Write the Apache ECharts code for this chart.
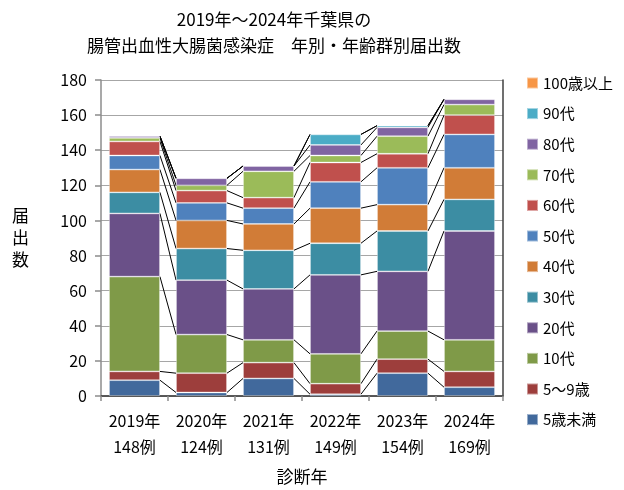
<!DOCTYPE html>
<html>
<head>
<meta charset="utf-8" />
<title>ECharts</title>
<script src="https://cdn.jsdelivr.net/npm/echarts@6.0.0/dist/echarts.min.js"></script>
<style>
  html, body { margin: 0; padding: 0; background: #fff; }
  #chart { width: 624px; height: 490px; }
</style>
</head>
<body>
<div id="chart"></div>
<script type="text/javascript">
  const years = ['2019年', '2020年', '2021年', '2022年', '2023年', '2024年'];
  const caseCounts = ['148例', '124例', '131例', '149例', '154例', '169例'];
  const ageGroups = ['5歳未満', '5～9歳', '10代', '20代', '30代', '40代', '50代', '60代', '70代', '80代', '90代', '100歳以上'];

  const under5 = [9, 2, 10, 1, 13, 5];
  const age5to9 = [5, 11, 9, 6, 8, 9];
  const teens = [54, 22, 13, 17, 16, 18];
  const twenties = [36, 31, 29, 45, 34, 62];
  const thirties = [12, 18, 22, 18, 23, 18];
  const forties = [13, 16, 15, 20, 15, 18];
  const fifties = [8, 10, 9, 15, 21, 19];
  const sixties = [8, 7, 6, 11, 8, 11];
  const seventies = [2, 3, 15, 4, 10, 6];
  const eighties = [1, 4, 3, 6, 5, 3];
  const nineties = [0, 0, 0, 6, 1, 0];
  const over100 = [0, 0, 0, 0, 0, 0];

  const yTicks = [0, 20, 40, 60, 80, 100, 120, 140, 160, 180];

  const groupValues = [under5, age5to9, teens, twenties, thirties, forties,
    fifties, sixties, seventies, eighties, nineties, over100];
  const colors = ['#41699C', '#9D3E3C', '#7F9A48', '#6A5088', '#3C8DA3', '#D17C37',
    '#4F81BD', '#C0504D', '#9BBB59', '#8064A2', '#4BACC6', '#F79646'];

  const FONT = '"Noto Sans CJK JP", "Noto Sans", sans-serif';
  const BAR_RATIO = 0.76;

  // cumulative tops of each stacked group, used for the connecting series lines
  const running = years.map(() => 0);
  const seriesLineData = [];
  groupValues.forEach(arr => {
    arr.forEach((v, i) => { running[i] += v; });
    for (let i = 0; i < years.length - 1; i++) {
      seriesLineData.push([i, running[i], running[i + 1]]);
    }
  });

  const barSeries = ageGroups.map((name, k) => ({
    type: 'bar',
    name: name,
    stack: 'total',
    barWidth: (BAR_RATIO * 100) + '%',
    itemStyle: { color: colors[k], borderColor: 'rgba(255,255,255,0.45)', borderWidth: 0.8 },
    data: groupValues[k].map(v => (v === 0 ? '-' : v)),
    z: 3
  }));

  const lineSeries = {
    type: 'custom',
    name: 'series-lines',
    silent: true,
    encode: { x: 0, y: [1, 2] },
    data: seriesLineData,
    z: 2,
    renderItem: function (params, api) {
      const i = api.value(0);
      const half = api.size([1, 0])[0] * BAR_RATIO / 2;
      const p1 = api.coord([i, api.value(1)]);
      const p2 = api.coord([i + 1, api.value(2)]);
      return {
        type: 'line',
        shape: { x1: p1[0] + half, y1: p1[1], x2: p2[0] - half, y2: p2[1] },
        style: { stroke: '#000', lineWidth: 1 }
      };
    }
  };

  const chart = echarts.init(document.getElementById('chart'), null, { renderer: 'canvas' });
  chart.setOption({
    animation: false,
    textStyle: { fontFamily: FONT },
    title: {
      text: '2019年～2024年千葉県の\n腸管出血性大腸菌感染症　年別・年齢群別届出数',
      left: 269,
      top: 2,
      textAlign: 'center',
      textStyle: { fontSize: 17, fontWeight: 'normal', color: '#000', lineHeight: 26, fontFamily: FONT }
    },
    legend: {
      orient: 'vertical',
      left: 521,
      top: 68,
      itemWidth: 11,
      itemHeight: 11,
      itemGap: 10.6,
      icon: 'rect',
      data: ageGroups.slice().reverse(),
      textStyle: { fontSize: 15, color: '#000', lineHeight: 20, fontFamily: FONT }
    },
    grid: { left: 101, right: 121, top: 80, bottom: 94 },
    xAxis: [{
      type: 'category',
      data: years.map((y, i) => y + '\n' + caseCounts[i]),
      name: '診断年',
      nameLocation: 'middle',
      nameGap: 72,
      nameTextStyle: { fontSize: 17, color: '#000', fontFamily: FONT },
      axisLine: { lineStyle: { color: '#8C8C8C', width: 1.5 } },
      axisTick: { show: true, length: 5, lineStyle: { color: '#8C8C8C', width: 1.5 } },
      axisLabel: { fontSize: 16, color: '#000', lineHeight: 26, margin: 12, fontFamily: FONT }
    }, {
      type: 'category',
      position: 'top',
      data: years,
      axisLine: { lineStyle: { color: '#404040', width: 1.5 } },
      axisTick: { show: false },
      axisLabel: { show: false }
    }],
    yAxis: [{
      type: 'value',
      min: yTicks[0],
      max: yTicks[yTicks.length - 1],
      interval: yTicks[1] - yTicks[0],
      name: '届\n出\n数',
      nameLocation: 'middle',
      nameRotate: 0,
      nameGap: 72,
      nameTextStyle: { fontSize: 17, color: '#000', lineHeight: 22, fontFamily: FONT },
      axisLine: { show: true, lineStyle: { color: '#8C8C8C', width: 1.5 } },
      axisTick: { show: true, length: 6, lineStyle: { color: '#8C8C8C', width: 1.5 } },
      axisLabel: { fontSize: 16, color: '#000', margin: 14, fontFamily: FONT },
      splitLine: { lineStyle: { color: '#A6A6A6', width: 1.2 } }
    }, {
      type: 'value',
      position: 'right',
      min: yTicks[0],
      max: yTicks[yTicks.length - 1],
      interval: yTicks[1] - yTicks[0],
      axisLine: { show: true, lineStyle: { color: '#404040', width: 1.5 } },
      axisTick: { show: false },
      axisLabel: { show: false },
      splitLine: { show: false }
    }],
    series: barSeries.concat([lineSeries])
  });
</script>
</body>
</html>
